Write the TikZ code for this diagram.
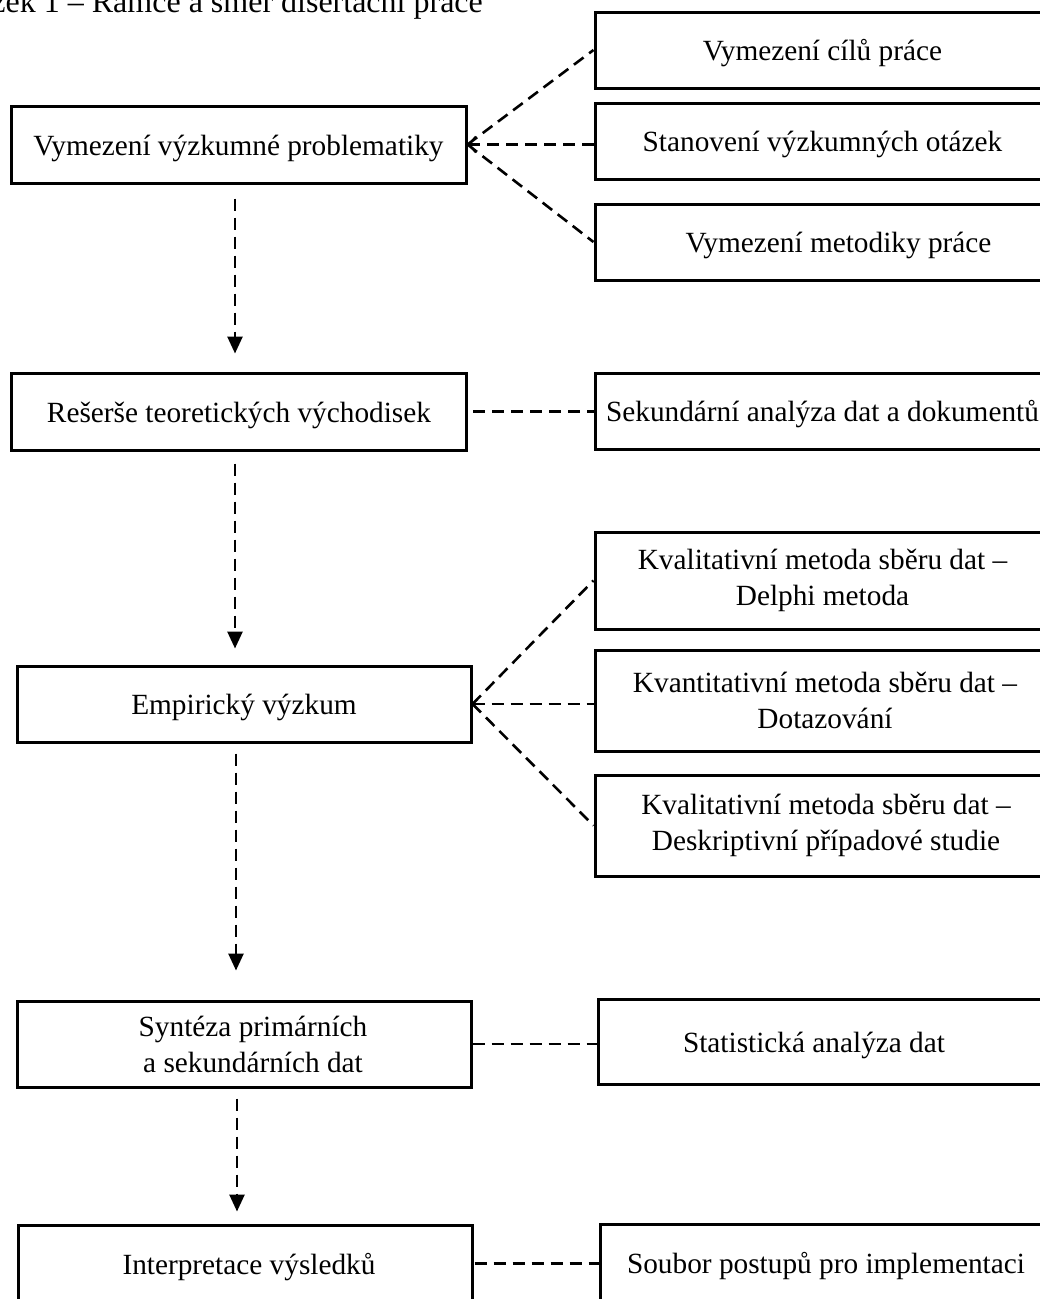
\documentclass[tikz,border=0pt]{standalone}
\usepackage{fontspec}
\setmainfont{Liberation Serif}
\usetikzlibrary{arrows.meta}
\begin{document}
\begin{tikzpicture}[x=1pt,y=-1pt,
  box/.style={draw, line width=3pt, minimum width=455pt, minimum height=77pt,
    inner sep=0pt, align=center, font=\fontsize{29.3}{36}\selectfont},
  one/.style={text height=21pt, text depth=0pt},
  link/.style={line width=2.6pt, dash pattern=on 12pt off 7pt},
  flow/.style={link, -{Triangle[length=17pt,width=15pt]}},
  back/.style={link, -{Straight Barb[length=7pt,width=16pt,line width=2.2pt]}},
]
\useasboundingbox (0,0) rectangle (1040,1299);
\clip (0,0) rectangle (1040,1299);

% caption
\node[anchor=base east, inner sep=0pt, font=\fontsize{32}{38}\selectfont] (title) at (483,12)
  {Obrázek 1 – Rámce a směr disertační práce};

% main stages (left column)
\node[box, one] (L1) at (238.5,144.5) {Vymezení výzkumné problematiky};
\node[box, one] (L2) at (239,411.5) {Rešerše teoretických východisek};
\node[box, one, minimum width=454pt, minimum height=76pt] (L3) at (244,704) {Empirický výzkum};
\node[box, minimum width=454pt, minimum height=86pt] (L4) at (244,1044)
  {\hspace*{18pt}Syntéza primárních\\\hspace*{18pt}a sekundárních dat};
\node[box, one, minimum width=454pt] (L5) at (245,1263.5) {\hspace*{8pt}Interpretace výsledků};

% supporting steps (right column, running off the right edge)
\node[box, one, minimum height=76pt] (R1) at (822.5,50) {Vymezení cílů práce};
\node[box, one, minimum height=76pt] (R2) at (822.5,141) {Stanovení výzkumných otázek};
\node[box, one, minimum width=487pt, minimum height=76pt] (R3) at (838.5,242) {Vymezení metodiky práce};
\node[box, one, minimum height=76pt] (R4) at (822.5,411) {Sekundární analýza dat a dokumentů};
\node[box, minimum height=97pt] (R5) at (822.5,580.5)
  {Kvalitativní metoda sběru dat –\\Delphi metoda};
\node[box, minimum width=460pt, minimum height=101pt] (R6) at (825,700.5)
  {Kvantitativní metoda sběru dat –\\Dotazování};
\node[box, minimum width=462pt, minimum height=101pt] (R7) at (826,825.5)
  {Kvalitativní metoda sběru dat –\\Deskriptivní případové studie};
\node[box, one, minimum height=85pt] (R8) at (825.5,1041.5) {Statistická analýza dat\hspace*{23pt}};
\node[box, one, minimum width=452pt] (R9) at (826,1262.5) {Soubor postupů pro implementaci};

% links to the supporting steps
\draw[link] (L1.east) -- (R1.west);
\draw[back] (L1.east -| R2.west) -- (L1.east);
\draw[link] (L1.east) -- (R3.west);
\draw[link] ([xshift=5pt]L2.east) -- (L2.east -| R4.west);
\draw[link] (L3.east) -- (R5.west);
\draw[link] (L3.east) -- (L3.east -| R6.west);
\draw[link] (L3.east) -- (R7.west);
\draw[link] (L4.east) -- (L4.east -| R8.west);
\draw[link] ([xshift=1pt]L5.east) -- (L5.east -| R9.west);

% main flow
\draw[flow] ([xshift=-3.5pt,yshift=-14pt]L1.south) -- ([xshift=-3.5pt,yshift=18pt]L1.south |- L2.north);
\draw[flow] ([xshift=-4pt,yshift=-12pt]L2.south) -- ([xshift=-4pt,yshift=16pt]L2.south |- L3.north);
\draw[flow] ([xshift=-8pt,yshift=-10pt]L3.south) -- ([xshift=-8pt,yshift=29pt]L3.south |- L4.north);
\draw[flow] ([xshift=-7pt,yshift=-10pt]L4.south) -- ([xshift=-7pt,yshift=12pt]L4.south |- L5.north);
\end{tikzpicture}
\end{document}
